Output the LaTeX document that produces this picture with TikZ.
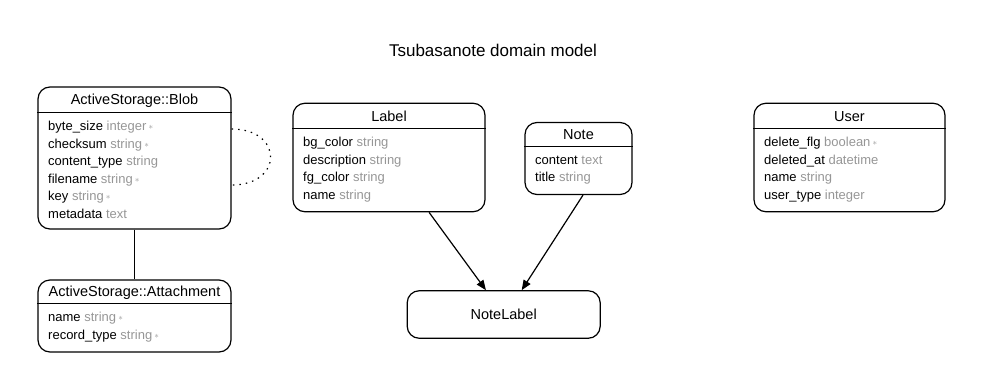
\documentclass[tikz,border=0pt]{standalone}
\usepackage{fontspec}
\setmainfont{Liberation Sans}
\usetikzlibrary{arrows.meta}

\definecolor{typegray}{RGB}{150,150,150}
\newcommand{\ty}[1]{\textcolor{typegray}{#1}}
\newcommand{\req}{\textcolor{typegray}{\,\raisebox{.15ex}{\small$\ast$}}}

\tikzset{
  entity/.style={draw, rounded corners=12pt, line width=1.2pt, inner sep=0pt},
  enttitle/.style={anchor=base, inner sep=0pt, font=\fontsize{14.5}{17}\selectfont},
  attrs/.style={anchor=north west, align=left, inner sep=0pt, font=\fontsize{13}{17.5}\selectfont},
  sepline/.style={line width=1.2pt},
  rel/.style={line width=1.2pt, -{Triangle[length=10pt,width=8pt]}},
}

\begin{document}
\begin{tikzpicture}[x=1pt, y=-1pt]
    \useasboundingbox (0,0) rectangle (985,391);
    \node[anchor=base, font=\fontsize{17}{20}\selectfont] (heading) at (493,56.7) {Tsubasanote domain model};

    % ActiveStorage::Blob
    \node[entity, minimum width=193pt, minimum height=142pt] (blob) at (134.5,158) {};
    \node[enttitle] (blob-title) at (134.5,104.4) {ActiveStorage::Blob};
    \draw[sepline] (blob.west |- 0,112.5) -- (blob.east |- 0,112.5);
    \node[attrs] (blob-attrs) at (48,121.3) {byte\_size \ty{integer}\req\\ checksum \ty{string}\req\\ content\_type \ty{string}\\ filename \ty{string}\req\\ key \ty{string}\req\\ metadata \ty{text}};

    % ActiveStorage::Attachment
    \node[entity, minimum width=193pt, minimum height=72pt] (attachment) at (134.5,316) {};
    \node[enttitle] (attachment-title) at (134.5,296.9) {ActiveStorage::Attachment};
    \draw[sepline] (attachment.west |- 0,303.3) -- (attachment.east |- 0,303.3);
    \node[attrs] (attachment-attrs) at (48,312.3) {name \ty{string}\req\\ record\_type \ty{string}\req};

    % Label
    \node[entity, minimum width=192pt, minimum height=108.5pt] (label) at (389,157.5) {};
    \node[enttitle] (label-title) at (389,121) {Label};
    \draw[sepline] (label.west |- 0,128.3) -- (label.east |- 0,128.3);
    \node[attrs] (label-attrs) at (303,137.3) {bg\_color \ty{string}\\ description \ty{string}\\ fg\_color \ty{string}\\ name \ty{string}};

    % Note
    \node[entity, minimum width=107pt, minimum height=72pt] (note) at (578.5,158.5) {};
    \node[enttitle] (note-title) at (578.5,139.8) {Note};
    \draw[sepline] (note.west |- 0,146.6) -- (note.east |- 0,146.6);
    \node[attrs] (note-attrs) at (535,155.4) {content \ty{text}\\ title \ty{string}};

    % User
    \node[entity, minimum width=191pt, minimum height=108.5pt] (user) at (849.5,157.5) {};
    \node[enttitle] (user-title) at (849.5,121) {User};
    \draw[sepline] (user.west |- 0,128.3) -- (user.east |- 0,128.3);
    \node[attrs] (user-attrs) at (764,137.3) {delete\_flg \ty{boolean}\req\\ deleted\_at \ty{datetime}\\ name \ty{string}\\ user\_type \ty{integer}};

    % NoteLabel
    \node[entity, minimum width=193pt, minimum height=47.5pt, font=\fontsize{14.5}{17}\selectfont] (notelabel) at (503.7,314.5) {NoteLabel};

    % relations
    \draw[sepline] (blob) -- (attachment);
    \draw[sepline, dash pattern=on 1.5pt off 5pt] ([yshift=29pt]blob.east) .. controls +(52,0) and +(52,0) .. ([yshift=-27pt]blob.east);
    \draw[rel] (label) -- (notelabel);
    \draw[rel] ([xshift=4.5pt]note.south) -- ([xshift=18pt]notelabel.north);
\end{tikzpicture}
\end{document}
